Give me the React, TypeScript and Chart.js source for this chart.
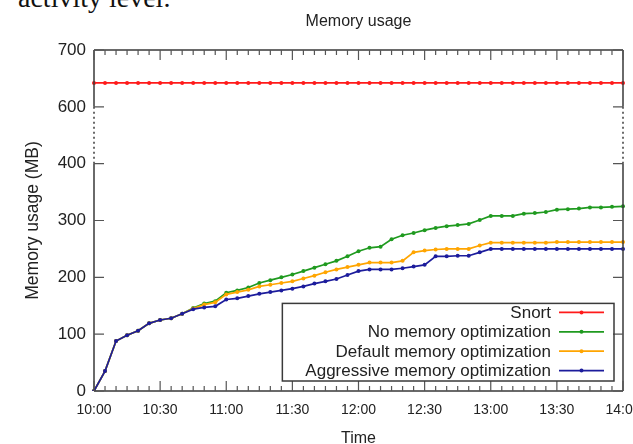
import React, { useEffect, useRef } from "react";
import { Chart, registerables } from "chart.js";

Chart.register(...registerables);

const FONT = '"Liberation Sans", Arial, sans-serif';

const timeLabels = [
  "10:00", "10:05", "10:10", "10:15", "10:20", "10:25", "10:30", "10:35", "10:40", "10:45", "10:50", "10:55",
  "11:00", "11:05", "11:10", "11:15", "11:20", "11:25", "11:30", "11:35", "11:40", "11:45", "11:50", "11:55",
  "12:00", "12:05", "12:10", "12:15", "12:20", "12:25", "12:30", "12:35", "12:40", "12:45", "12:50", "12:55",
  "13:00", "13:05", "13:10", "13:15", "13:20", "13:25", "13:30", "13:35", "13:40", "13:45", "13:50", "13:55",
  "14:00",
];

const yTickValues = [0, 100, 200, 300, 400, 600, 700];

const snort = [
  642, 642, 642, 642, 642, 642, 642, 642, 642, 642, 642, 642,
  642, 642, 642, 642, 642, 642, 642, 642, 642, 642, 642, 642,
  642, 642, 642, 642, 642, 642, 642, 642, 642, 642, 642, 642,
  642, 642, 642, 642, 642, 642, 642, 642, 642, 642, 642, 642,
  642,
];

const noOpt = [
  0, 35, 88, 98, 106, 119, 125, 128, 136, 146, 154, 158,
  173, 177, 182, 190, 195, 200, 205, 211, 217, 223, 229, 237,
  246, 252, 254, 267, 274, 278, 283, 287, 290, 292, 294, 301,
  308, 308, 308, 312, 313, 315, 319, 320, 321, 323, 323, 324,
  325,
];

const defaultOpt = [
  0, 35, 88, 98, 106, 119, 125, 128, 136, 145, 152, 156,
  170, 174, 178, 184, 187, 190, 193, 198, 203, 209, 214, 218,
  222, 226, 226, 226, 229, 244, 247, 249, 250, 250, 250, 256,
  261, 261, 261, 261, 261, 261, 262, 262, 262, 262, 262, 262,
  262,
];

const aggressiveOpt = [
  0, 35, 88, 98, 106, 119, 125, 128, 136, 144, 147, 149,
  161, 163, 167, 171, 174, 177, 180, 184, 189, 193, 197, 204,
  211, 214, 214, 214, 216, 219, 222, 237, 237, 238, 238, 244,
  250, 250, 250, 250, 250, 250, 250, 250, 250, 250, 250, 250,
  250,
];

const seriesNames = [
  "Snort",
  "No memory optimization",
  "Default memory optimization",
  "Aggressive memory optimization",
];
const seriesColors = ["#ff1a1a", "#1f9a1f", "#ffa500", "#1c1c9c"];

// broken y axis: 400..600 collapsed into one tick interval
const BREAK_LO = 400;
const BREAK_HI = 600;
const toDisplay = (v: number) => (v >= BREAK_HI ? v - (BREAK_HI - BREAK_LO) + 100 : v);
const fromDisplay = (d: number) => (d > BREAK_LO ? d + (BREAK_HI - BREAK_LO) - 100 : d);

const framePlugin = {
  id: "gnuplotFrame",
  afterDatasetsDraw(chart: any) {
    const { ctx, chartArea, scales } = chart;
    const { left, right, top, bottom } = chartArea;
    const y = scales.y;
    const x = scales.x;
    const yLo = y.getPixelForValue(toDisplay(BREAK_LO));
    const yHi = y.getPixelForValue(toDisplay(BREAK_HI));
    ctx.save();
    ctx.strokeStyle = "#3a3a3a";
    ctx.lineWidth = 1.5;
    ctx.beginPath();
    ctx.moveTo(left, top);
    ctx.lineTo(right, top);
    ctx.moveTo(left, bottom);
    ctx.lineTo(right, bottom);
    ctx.moveTo(left, top);
    ctx.lineTo(left, yHi);
    ctx.moveTo(left, yLo);
    ctx.lineTo(left, bottom);
    ctx.moveTo(right, top);
    ctx.lineTo(right, yHi);
    ctx.moveTo(right, yLo);
    ctx.lineTo(right, bottom);
    ctx.stroke();
    ctx.setLineDash([2, 3]);
    ctx.beginPath();
    ctx.moveTo(left, yHi);
    ctx.lineTo(left, yLo);
    ctx.moveTo(right, yHi);
    ctx.lineTo(right, yLo);
    ctx.stroke();
    ctx.setLineDash([]);
    ctx.strokeStyle = "#555";
    ctx.lineWidth = 1.2;
    ctx.beginPath();
    yTickValues.forEach((v) => {
      const py = y.getPixelForValue(toDisplay(v));
      ctx.moveTo(left, py);
      ctx.lineTo(left + 10, py);
      ctx.moveTo(right, py);
      ctx.lineTo(right - 10, py);
    });
    timeLabels.forEach((_, i) => {
      const px = x.getPixelForValue(i);
      const len = i % 6 === 0 ? 10 : 5;
      ctx.moveTo(px, bottom);
      ctx.lineTo(px, bottom - len);
      ctx.moveTo(px, top);
      ctx.lineTo(px, top + len);
    });
    ctx.stroke();
    ctx.restore();
  },
};

const boxLegendPlugin = {
  id: "boxLegend",
  afterDraw(chart: any) {
    const { ctx, chartArea } = chart;
    const datasets = chart.data.datasets;
    ctx.save();
    ctx.font = `17px ${FONT}`;
    const rowH = 19.4;
    const boxRight = chartArea.right - 9;
    const boxBottom = chartArea.bottom - 10;
    const boxTop = boxBottom - datasets.length * rowH;
    const textRight = boxRight - 63;
    let maxW = 0;
    datasets.forEach((d: any) => {
      maxW = Math.max(maxW, ctx.measureText(d.label).width);
    });
    const boxLeft = textRight - maxW - 23;
    ctx.strokeStyle = "#3a3a3a";
    ctx.lineWidth = 1.5;
    ctx.strokeRect(boxLeft, boxTop, boxRight - boxLeft, boxBottom - boxTop);
    ctx.textAlign = "right";
    ctx.textBaseline = "middle";
    datasets.forEach((d: any, i: number) => {
      const cy = boxTop + 9 + i * rowH;
      ctx.fillStyle = "#222";
      ctx.fillText(d.label, textRight, cy + 1);
      ctx.strokeStyle = d.borderColor;
      ctx.lineWidth = 1.7;
      ctx.beginPath();
      ctx.moveTo(textRight + 8, cy);
      ctx.lineTo(textRight + 53, cy);
      ctx.stroke();
      ctx.fillStyle = d.borderColor;
      ctx.beginPath();
      ctx.arc(textRight + 30.5, cy, 2, 0, Math.PI * 2);
      ctx.fill();
    });
    ctx.restore();
  },
};

export default function App() {
  const canvasRef = useRef<HTMLCanvasElement | null>(null);

  useEffect(() => {
    const canvas = canvasRef.current;
    if (!canvas) return;
    const series = [snort, noOpt, defaultOpt, aggressiveOpt];
    const chart = new Chart(canvas, {
      type: "line",
      data: {
        labels: timeLabels,
        datasets: series.map((values, i) => ({
          label: seriesNames[i],
          data: values.map(toDisplay),
          borderColor: seriesColors[i],
          backgroundColor: seriesColors[i],
          borderWidth: 1.7,
          pointRadius: 2,
          pointBorderWidth: 0,
          pointBackgroundColor: seriesColors[i],
          tension: 0,
          fill: false,
          order: series.length - 1 - i,
        })),
      },
      options: {
        responsive: false,
        animation: false,
        devicePixelRatio: 1,
        layout: { padding: { left: 0, right: 10, top: 0, bottom: 0 } },
        plugins: {
          legend: { display: false },
          tooltip: { enabled: false },
          title: {
            display: true,
            fullSize: false,
            text: "Memory usage",
            color: "#222",
            font: { family: FONT, size: 16, weight: "normal", lineHeight: 1.2 },
            padding: { top: 12, bottom: 18.8 },
          },
        },
        scales: {
          x: {
            type: "category",
            offset: false,
            grid: { display: false, drawTicks: false },
            border: { display: false },
            ticks: {
              autoSkip: false,
              maxRotation: 0,
              minRotation: 0,
              padding: 11,
              color: "#222",
              font: { family: FONT, size: 14 },
              callback: (_v: any, i: number) => (i % 6 === 0 ? timeLabels[i] : ""),
            },
            title: {
              display: true,
              text: "Time",
              color: "#222",
              font: { family: FONT, size: 16, lineHeight: 1 },
              padding: { top: 0, bottom: -3 },
            },
            afterFit: (s: any) => {
              s.height = 53;
              s.paddingLeft = 0;
              s.paddingRight = 0;
            },
          },
          y: {
            type: "linear",
            min: 0,
            max: toDisplay(700),
            grid: { display: false, drawTicks: false },
            border: { display: false },
            afterBuildTicks: (s: any) => {
              s.ticks = yTickValues.map((v) => ({ value: toDisplay(v) }));
            },
            ticks: {
              padding: 8,
              color: "#222",
              font: { family: FONT, size: 17 },
              callback: (v: any) => String(fromDisplay(Number(v))),
            },
            title: {
              display: true,
              text: "Memory usage (MB)",
              color: "#222",
              font: { family: FONT, size: 17.5, lineHeight: 1.2 },
              padding: { top: 23, bottom: 0 },
            },
            afterFit: (s: any) => {
              s.width = 94;
              s.paddingTop = 0;
              s.paddingBottom = 0;
            },
          },
        },
      },
      plugins: [framePlugin, boxLegendPlugin],
    });
    return () => chart.destroy();
  }, []);

  return (
    <div style={{ position: "absolute", left: 0, top: 0, width: 633, height: 444, overflow: "hidden", background: "#fff" }}>
      <div
        style={{
          position: "absolute",
          left: 18,
          top: -16,
          fontFamily: '"Liberation Serif", "Times New Roman", serif',
          fontSize: 28,
          lineHeight: "28px",
          color: "#111",
          whiteSpace: "nowrap",
        }}
      >
        activity level.
      </div>
      <canvas ref={canvasRef} width={633} height={444} style={{ position: "absolute", left: 0, top: 0, display: "block", width: 633, height: 444 }} />
    </div>
  );
}
